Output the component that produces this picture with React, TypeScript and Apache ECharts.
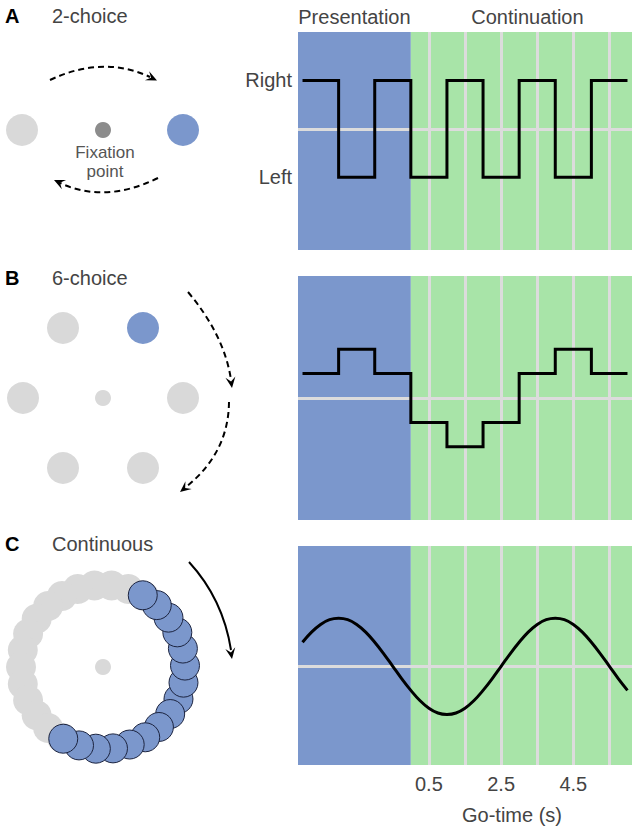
import React, { useEffect, useRef } from 'react';
import * as echarts from 'echarts';

// ---------- data ----------
const SEGMENT_X = [-3, -2, -1, 0, 1, 2, 3, 4, 5, 6];
const TWO_CHOICE = [1, -1, 1, -1, 1, -1, 1, -1, 1, 1];
const SIX_CHOICE = [1, 2, 1, -1, -2, -1, 1, 2, 1, 1];
const CONT_X = [
  -3, -2.75, -2.5, -2.25, -2, -1.75, -1.5, -1.25, -1, -0.75, -0.5, -0.25, 0, 0.25, 0.5, 0.75, 1, 1.25, 1.5,
  1.75, 2, 2.25, 2.5, 2.75, 3, 3.25, 3.5, 3.75, 4, 4.25, 4.5, 4.75, 5, 5.25, 5.5, 5.75, 6,
];
const CONTINUOUS = [
  0.5, 0.71, 0.87, 0.97, 1, 0.97, 0.87, 0.71, 0.5, 0.26, 0, -0.26, -0.5, -0.71, -0.87, -0.97, -1, -0.97, -0.87,
  -0.71, -0.5, -0.26, 0, 0.26, 0.5, 0.71, 0.87, 0.97, 1, 0.97, 0.87, 0.71, 0.5, 0.26, 0, -0.26, -0.5,
];
const BEAT_LINES = [0.5, 1.5, 2.5, 3.5, 4.5, 5.5];
const TICK_LABELS = [0.5, 2.5, 4.5];
const PHASE_NAMES = ['Presentation', 'Continuation'];
const PHASE_BOUNDS = [-3.125, 0, 6.125];
const Y_LEVEL_NAMES = ['Right', 'Left'];
const Y_LEVEL_VALUES = [1, -1];
const PANEL_LETTERS = ['A', 'B', 'C'];
const PANEL_TITLES = ['2-choice', '6-choice', 'Continuous'];
const X_NAME = 'Go-time (s)';

// ---------- styles ----------
const FONT = '"Liberation Sans", Arial, Helvetica, sans-serif';
const BLUE = '#7b97cc';
const GREEN = '#a8e4a8';
const GRID_GRAY = '#dcdcdc';
const DOT_GRAY = '#d9d9d9';
const TEXT = '#444444';

function arrowHead(tx: number, ty: number, dx: number, dy: number, len = 11, w = 5) {
  const m = Math.hypot(dx, dy);
  const ux = dx / m, uy = dy / m;
  const nx = -uy, ny = ux;
  return {
    type: 'polygon',
    shape: {
      points: [
        [tx, ty],
        [tx - len * ux + w * nx, ty - len * uy + w * ny],
        [tx - 0.6 * len * ux, ty - 0.6 * len * uy],
        [tx - len * ux - w * nx, ty - len * uy - w * ny],
      ],
    },
    style: { fill: '#000' },
    z: 10,
  };
}

function curve(x1: number, y1: number, cx: number, cy: number, x2: number, y2: number, dashed: boolean) {
  return {
    type: 'bezierCurve',
    shape: { x1, y1, x2, y2, cpx1: cx, cpy1: cy },
    style: { stroke: '#000', lineWidth: 2, fill: 'none', lineDash: dashed ? [6, 4] : null },
    z: 10,
  };
}

function txt(x: number, y: number, text: string, size: number, opts: any = {}) {
  return {
    type: 'text',
    x,
    y,
    z: 10,
    style: {
      text,
      fill: opts.fill || TEXT,
      fontSize: size,
      fontFamily: FONT,
      fontWeight: opts.bold ? 'bold' : 'normal',
      align: opts.align || 'left',
      verticalAlign: 'middle',
    },
  };
}

function buildGraphics() {
  const els: any[] = [];
  const titleY = [16, 278, 544];
  for (let i = 0; i < 3; i++) {
    els.push(txt(5, titleY[i], PANEL_LETTERS[i], 20, { bold: true, fill: '#000' }));
    els.push(txt(52, titleY[i], PANEL_TITLES[i], 20));
  }
  // Panel A
  els.push({ type: 'circle', shape: { cx: 22, cy: 130, r: 16 }, style: { fill: DOT_GRAY } });
  els.push({ type: 'circle', shape: { cx: 103, cy: 130, r: 8 }, style: { fill: '#8c8c8c' } });
  els.push({ type: 'circle', shape: { cx: 183, cy: 130, r: 16 }, style: { fill: BLUE } });
  els.push(txt(105, 152, 'Fixation', 17, { align: 'center', fill: '#555' }));
  els.push(txt(105, 171, 'point', 17, { align: 'center', fill: '#555' }));
  els.push(curve(50, 80, 103, 55, 150, 77, true));
  els.push(arrowHead(157, 80.5, 47, 22));
  els.push(curve(158, 178, 105, 204, 60, 183, true));
  els.push(arrowHead(54, 180, -45, -21));

  // Panel B
  const bc = [103, 398];
  els.push({ type: 'circle', shape: { cx: bc[0], cy: bc[1], r: 8 }, style: { fill: DOT_GRAY } });
  for (let k = 0; k < 6; k++) {
    const a = (k * 60 * Math.PI) / 180;
    els.push({
      type: 'circle',
      shape: { cx: bc[0] + 80 * Math.cos(a), cy: bc[1] - 70 * Math.sign(Math.round(Math.sin(a) * 1000)), r: 16 },
      style: { fill: k === 1 ? BLUE : DOT_GRAY },
    });
  }
  els.push(curve(188, 292, 224.5, 335.5, 231, 380, true));
  els.push(arrowHead(232, 388, 6.5, 44.5));
  els.push(curve(229, 402, 228.5, 453, 186, 487, true));
  els.push(arrowHead(180, 492, -42.5, 34));

  // Panel C
  const cc = [103, 667];
  els.push({ type: 'circle', shape: { cx: cc[0], cy: cc[1], r: 8 }, style: { fill: DOT_GRAY } });
  const R = 82;
  for (let d = 60; d <= 240; d += 12) {
    const a = (d * Math.PI) / 180;
    els.push({
      type: 'circle',
      shape: { cx: cc[0] + R * Math.cos(a), cy: cc[1] - R * Math.sin(a), r: 15 },
      style: { fill: DOT_GRAY },
      z: 5,
    });
  }
  const nBlue = 16;
  for (let i = 0; i < nBlue; i++) {
    const d = 61 - i * 12;
    const a = (d * Math.PI) / 180;
    const mid = (nBlue - 1) / 2;
    els.push({
      type: 'circle',
      shape: { cx: cc[0] + R * Math.cos(a), cy: cc[1] - R * Math.sin(a), r: 14.5 },
      style: { fill: BLUE, stroke: '#1c2440', lineWidth: 1 },
      z: 6,
      z2: Math.round(Math.abs(i - mid) * 2),
    });
  }
  els.push(curve(189, 562, 223, 599, 231, 650, false));
  els.push(arrowHead(232, 659, 8, 51));
  return els;
}

const GRIDS = [
  { left: 298, top: 32, width: 334, height: 218 },
  { left: 298, top: 276, width: 334, height: 244 },
  { left: 298, top: 546, width: 334, height: 219 },
];
const Y_RANGES = [
  [-2.5, 2],
  [-5, 5],
  [-2.05, 2.5],
];

function panelSeries(idx: number, data: number[][], smooth: boolean) {
  const phaseColors = [BLUE, GREEN];
  const areaData = PHASE_NAMES.map((name, i) => [
    {
      name,
      xAxis: PHASE_BOUNDS[i],
      itemStyle: { color: phaseColors[i], opacity: 1 },
      label: { offset: i === 1 ? [6, 0] : [0, 0] },
    },
    { xAxis: PHASE_BOUNDS[i + 1] },
  ]);
  return {
    type: 'line',
    xAxisIndex: idx,
    yAxisIndex: idx,
    data,
    step: smooth ? false : 'end',
    smooth: smooth ? 0.4 : false,
    symbol: 'none',
    showSymbol: false,
    silent: true,
    lineStyle: { color: '#000', width: 3, join: 'miter', cap: 'butt' },
    z: 3,
    markArea: {
      silent: true,
      z: 1,
      label: {
        show: idx === 0,
        position: 'top',
        distance: 5,
        fontSize: 20,
        fontFamily: FONT,
        color: TEXT,
      },
      data: areaData,
    },
    markLine: {
      silent: true,
      z: 2,
      symbol: ['none', 'none'],
      label: { show: false },
      lineStyle: { color: GRID_GRAY, width: 3, type: 'solid', opacity: 1 },
      emphasis: { disabled: true },
      data: [{ yAxis: 0 }, ...BEAT_LINES.map((x) => ({ xAxis: x }))],
    },
  };
}

export default function App() {
  const ref = useRef<HTMLDivElement>(null);
  useEffect(() => {
    if (!ref.current) return;
    const chart = echarts.init(ref.current, undefined, { renderer: 'svg' });
    const xAxes = GRIDS.map((_, i) => ({
      type: 'value',
      gridIndex: i,
      min: PHASE_BOUNDS[0],
      max: PHASE_BOUNDS[2],
      interval: 0.125,
      axisLine: { show: false },
      axisTick: { show: false },
      splitLine: { show: false },
      axisLabel: {
        show: i === 2,
        margin: 9,
        fontSize: 20,
        fontFamily: FONT,
        color: TEXT,
        formatter: (v: number) => {
          const t = TICK_LABELS.find((l) => Math.abs(l - v) < 1e-6);
          return t === undefined ? '' : String(t);
        },
      },
      name: i === 2 ? X_NAME : '',
      nameLocation: 'middle',
      nameGap: 40,
      nameTextStyle: { fontSize: 20, fontFamily: FONT, color: TEXT, padding: [0, 0, 0, 94] },
    }));
    const yAxes = GRIDS.map((_, i) => ({
      type: 'value',
      gridIndex: i,
      min: Y_RANGES[i][0],
      max: Y_RANGES[i][1],
      interval: i === 0 ? 0.5 : undefined,
      axisLine: { show: false },
      axisTick: { show: false },
      splitLine: { show: false },
      axisLabel: {
        show: i === 0,
        margin: 6,
        fontSize: 20,
        fontFamily: FONT,
        color: TEXT,
        formatter: (v: number) => {
          const k = Y_LEVEL_VALUES.findIndex((l) => Math.abs(l - v) < 1e-6);
          return k < 0 ? '' : Y_LEVEL_NAMES[k];
        },
      },
    }));
    const stepData = (vals: number[]) => SEGMENT_X.map((x, i) => [x, vals[i]]);
    chart.setOption({
      animation: false,
      textStyle: { fontFamily: FONT },
      grid: GRIDS.map((g) => ({ ...g, containLabel: false, outerBoundsMode: 'none' })),
      xAxis: xAxes,
      yAxis: yAxes,
      series: [
        panelSeries(0, stepData(TWO_CHOICE), false),
        panelSeries(1, stepData(SIX_CHOICE), false),
        panelSeries(2, CONT_X.map((x, i) => [x, CONTINUOUS[i]]), true),
      ],
      graphic: { elements: buildGraphics() },
    });
    return () => chart.dispose();
  }, []);
  return (
    <div
      ref={ref}
      style={{ position: 'fixed', left: 0, top: 0, width: 638, height: 831, background: '#fff' }}
    />
  );
}
